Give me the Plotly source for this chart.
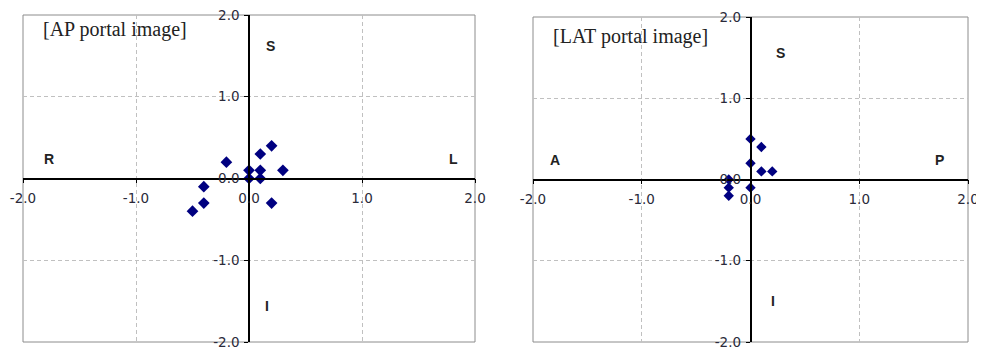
import plotly.graph_objects as go

# ---- data ----
ap_x = [0.2, 0.1, -0.2, 0.0, 0.1, 0.3, 0.0, 0.1, -0.4, -0.4, 0.2, -0.5]
ap_y = [0.4, 0.3, 0.2, 0.1, 0.1, 0.1, 0.0, 0.0, -0.1, -0.3, -0.3, -0.4]
lat_x = [0.0, 0.1, 0.0, 0.1, 0.2, -0.2, -0.2, -0.2, 0.0]
lat_y = [0.5, 0.4, 0.2, 0.1, 0.1, 0.0, -0.1, -0.2, -0.1]
tick_vals = [-2.0, -1.0, 0.0, 1.0, 2.0]
tick_text = ["-2.0", "-1.0", "0.0", "1.0", "2.0"]
titles = ["[AP portal image]", "[LAT portal image]"]
ap_dirs = ["S", "R", "L", "I"]
lat_dirs = ["S", "A", "P", "I"]

W, H = 984, 347
OFF = 8  # page body margin
NAVY = "#000080"

fig = go.Figure()
fig.add_trace(go.Scatter(x=ap_x, y=ap_y, mode="markers", xaxis="x", yaxis="y",
                         marker=dict(symbol="diamond", size=9, color=NAVY), showlegend=False))
fig.add_trace(go.Scatter(x=lat_x, y=lat_y, mode="markers", xaxis="x2", yaxis="y2",
                         marker=dict(symbol="diamond", size=8, color=NAVY), showlegend=False))

# domains in page pixels
left_px = (23, 475)
right_px = (533, 968)
left_y_px = (15, 342)
right_y_px = (17, 342)

def xd(p):
    return [(p[0] - OFF) / W, (p[1] - OFF) / W]

def yd(p):
    return [(H - (p[1] - OFF)) / H, (H - (p[0] - OFF)) / H]

tickfont = dict(family="DejaVu Sans, Arial, sans-serif", size=13.5, color="#2a2a3a")

common = dict(range=[-2, 2], tickvals=tick_vals, ticktext=tick_text,
              anchor="free", automargin=False, ticklabeloverflow="allow",
              showline=True, linecolor="black", linewidth=1.5,
              ticks="outside", ticklen=4, tickcolor="black", tickwidth=1,
              showgrid=True, gridcolor="#c0c0c0", griddash="4px,3px", gridwidth=1,
              zeroline=False, tickfont=tickfont, fixedrange=True)

def xaxis_cfg(dom, ydom):
    return dict(domain=dom, position=(ydom[0] + ydom[1]) / 2, ticklabelstandoff=4, **common)

def yaxis_cfg(dom, xdom):
    return dict(domain=dom, position=(xdom[0] + xdom[1]) / 2, ticklabelstandoff=2, **common)

xl, xr = xd(left_px), xd(right_px)
yl, yr = yd(left_y_px), yd(right_y_px)

fig.update_layout(
    width=W, height=H, margin=dict(l=0, r=0, t=0, b=0, autoexpand=False),
    paper_bgcolor="white", plot_bgcolor="white",
    xaxis=xaxis_cfg(xl, yl), yaxis=yaxis_cfg(yl, xl),
    xaxis2=xaxis_cfg(xr, yr), yaxis2=yaxis_cfg(yr, xr),
)

# frames
for xr_, yr_ in [("x", "y"), ("x2", "y2")]:
    fig.add_shape(type="rect", xref=f"{xr_} domain", yref=f"{yr_} domain",
                  x0=0, x1=1, y0=0, y1=1, line=dict(color="#8c8c8c", width=1), layer="below")

serif = dict(family="Liberation Serif, Times New Roman, serif", size=20, color="#222")
fig.add_annotation(text=titles[0], xref="x", yref="y", x=-1.84, y=1.82, xanchor="left",
                   yanchor="middle", showarrow=False, font=serif)
fig.add_annotation(text=titles[1], xref="x2", yref="y2", x=-1.83, y=1.76, xanchor="left",
                   yanchor="middle", showarrow=False, font=serif)

bold = dict(family="Liberation Sans, Arial, sans-serif", size=14, color="#222")
ap_pos = [(0.19, 1.62), (-1.77, 0.24), (1.81, 0.24), (0.16, -1.56)]
lat_pos = [(0.28, 1.56), (-1.8, 0.24), (1.74, 0.24), (0.21, -1.49)]
for t, (x, y) in zip(ap_dirs, ap_pos):
    fig.add_annotation(text=f"<b>{t}</b>", xref="x", yref="y", x=x, y=y, showarrow=False, font=bold)
for t, (x, y) in zip(lat_dirs, lat_pos):
    fig.add_annotation(text=f"<b>{t}</b>", xref="x2", yref="y2", x=x, y=y, showarrow=False, font=bold)

fig.write_html("out.html")
